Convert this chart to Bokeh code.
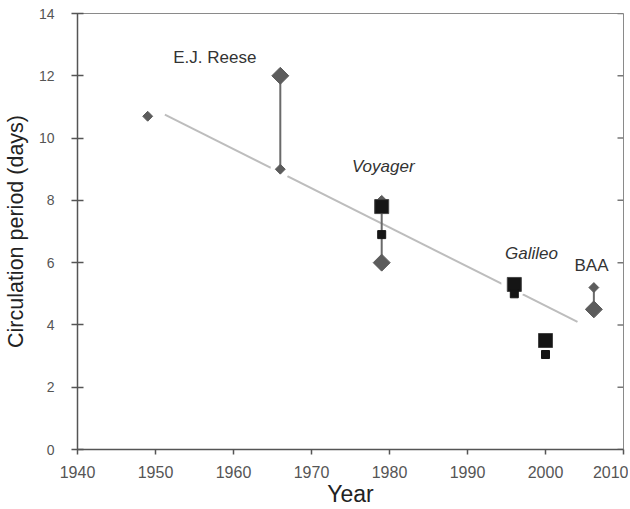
from bokeh.plotting import figure
from bokeh.models import Range1d, FixedTicker, ColumnDataSource
from bokeh.core.properties import value
from bokeh.embed import file_html
from bokeh.resources import INLINE
import math

# ---- data ----
small_diamond_year = [1949, 1966, 1979, 2006.2]
small_diamond_val = [10.7, 9.0, 8.0, 5.2]
big_diamond_year = [1966, 1979, 2006.2]
big_diamond_val = [12.0, 6.0, 4.5]
big_square_year = [1979, 1996, 2000]
big_square_val = [7.8, 5.3, 3.5]
small_square_year = [1979, 1996, 2000]
small_square_val = [6.9, 5.0, 3.05]
conn_year = [1966, 1979, 2006.2]
conn_top = [12.0, 7.8, 5.2]
conn_bottom = [9.0, 6.0, 4.5]
trend_year = [1951.2, 2004.1]
trend_val = [10.75, 4.1]
label_text = ["E.J. Reese", "Voyager", "Galileo", "BAA"]
label_year = [1957.6, 1979.2, 1998.2, 2005.9]
label_val = [12.6, 9.1, 6.3, 5.9]
label_style = ["normal", "italic", "italic", "normal"]
x_ticks = [1940, 1950, 1960, 1970, 1980, 1990, 2000, 2010]
y_ticks = [0, 2, 4, 6, 8, 10, 12, 14]

FONT = "Liberation Sans"
DIAMOND = "#5c5c5c"
SQUARE = "#151515"

p = figure(width=628, height=509, output_backend="svg", toolbar_location=None,
           x_range=Range1d(1940, 2010), y_range=Range1d(0, 14),
           min_border_left=74, min_border_right=5, min_border_top=13, min_border_bottom=59)
p.grid.visible = False
p.background_fill_color = "white"
p.border_fill_color = "white"
p.outline_line_color = "#8a8a8a"
p.outline_line_width = 1

for ax, ticks in ((p.xaxis[0], x_ticks), (p.yaxis[0], y_ticks)):
    ax.ticker = FixedTicker(ticks=ticks)
    ax.axis_label_text_font = FONT
    ax.axis_label_text_font_style = "normal"
    ax.axis_label_text_color = "#222222"
    ax.major_label_text_font = FONT
    ax.major_label_text_color = "#555555"
    ax.axis_line_color = "#555555"
    ax.axis_line_width = 1.5
    ax.major_tick_line_color = "#555555"
    ax.major_tick_line_width = 1.5
    ax.minor_tick_line_color = None
    ax.major_tick_out = 6
    ax.major_tick_in = 0

p.yaxis[0].axis_label = "Circulation period (days)"
p.yaxis[0].axis_label_text_font_size = "21.5px"
p.yaxis[0].major_label_text_font_size = "14px"
p.yaxis[0].major_tick_in = 6
p.yaxis[0].major_label_standoff = 17
p.yaxis[0].axis_label_standoff = 8

xa = p.xaxis[0]
xa.axis_label = "Year"
xa.axis_label_text_font_size = "23px"
xa.axis_label_text_line_height = 0.9
xa.axis_label_standoff = 0
xa.major_label_text_font_size = "16px"
xa.major_label_text_line_height = 1.0
xa.major_tick_out = 5
xa.major_label_standoff = 11

# inward ticks on the right frame edge
p.ray(x=[2010] * len(y_ticks), y=y_ticks, length=6, length_units="screen",
      angle=math.pi, line_color="#777777", line_width=1.5)

# trend line
p.line(trend_year, trend_val, line_color="#bdbdbd", line_width=2)

# white halos where the trend line is interrupted
p.scatter(big_square_year, big_square_val, marker="circle", size=26,
          fill_color="white", line_color=None)
p.scatter(small_diamond_year, small_diamond_val, marker="circle", size=20,
          fill_color="white", line_color=None)

# connectors
p.segment(x0=conn_year, y0=conn_bottom, x1=conn_year, y1=conn_top,
          line_color="#6a6a6a", line_width=2)

# markers
p.scatter(small_diamond_year, small_diamond_val, marker="square", angle=math.pi / 4,
          size=7, fill_color=DIAMOND, line_color=DIAMOND)
p.scatter(big_diamond_year, big_diamond_val, marker="square", angle=math.pi / 4,
          size=12, fill_color=DIAMOND, line_color=DIAMOND)
p.scatter(big_square_year, big_square_val, marker="square", size=14,
          fill_color=SQUARE, line_color="#444444", line_width=1)
p.scatter(small_square_year, small_square_val, marker="square", size=8,
          fill_color=SQUARE, line_color=SQUARE)

src = ColumnDataSource(dict(x=label_year, y=label_val, t=label_text, s=label_style))
p.text(x="x", y="y", text="t", text_font_style="s", source=src,
       text_font=value(FONT), text_font_size="17px", text_color="#333333",
       text_align="center", text_baseline="middle")

open("out.html", "w").write(file_html(p, INLINE))
